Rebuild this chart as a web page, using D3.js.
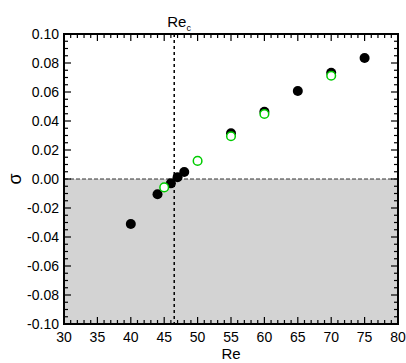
<!DOCTYPE html>
<html><head><meta charset="utf-8">
<script src="https://cdn.jsdelivr.net/npm/d3@7"></script>
<style>body{margin:0;background:#fff}svg{display:block}text{font-family:"Liberation Sans",Arial,sans-serif;fill:#000}</style>
</head><body>
<script>
const blackRe = [40, 44, 46, 47, 48, 55, 60, 65, 70, 75];
const blackSigma = [-0.031, -0.0105, -0.003, 0.0012, 0.0048, 0.0315, 0.0464, 0.0607, 0.0733, 0.0834];
const greenRe = [45, 50, 55, 60, 70];
const greenSigma = [-0.0058, 0.0125, 0.0295, 0.0448, 0.0712];
const xTicks = [30, 35, 40, 45, 50, 55, 60, 65, 70, 75, 80];
const yTicks = [-0.10, -0.08, -0.06, -0.04, -0.02, 0.00, 0.02, 0.04, 0.06, 0.08, 0.10];
const ReC = 46.5;

const W = 406, H = 363;
const m = {l: 64, r: 8, t: 34, b: 39};
const svg = d3.select("body").append("svg").attr("width", W).attr("height", H);
const x = d3.scaleLinear().domain([30, 80]).range([m.l, W - m.r]);
const y = d3.scaleLinear().domain([-0.10, 0.10]).range([H - m.b, m.t]);

svg.append("rect").attr("x", x(30)).attr("y", y(0)).attr("width", x(80) - x(30)).attr("height", y(-0.10) - y(0)).attr("fill", "#d3d3d3");

svg.append("line").attr("x1", x(30)).attr("x2", x(80)).attr("y1", y(0)).attr("y2", y(0))
  .attr("stroke", "#333").attr("stroke-width", 1).attr("stroke-dasharray", "4,2");
svg.append("line").attr("x1", x(ReC)).attr("x2", x(ReC)).attr("y1", y(0.10)).attr("y2", y(-0.10))
  .attr("stroke", "#000").attr("stroke-width", 1.5).attr("stroke-dasharray", "3,3");

const minorX = d3.range(30, 80.01, 1);
const minorY = d3.range(-0.10, 0.1001, 0.005);
const g = svg.append("g").attr("stroke", "#000");
minorX.forEach(v => {
  const major = Math.abs(v % 5) < 1e-9;
  const len = major ? 7 : 4;
  g.append("line").attr("x1", x(v)).attr("x2", x(v)).attr("y1", y(-0.10)).attr("y2", y(-0.10) - len).attr("stroke-width", 1.2);
  g.append("line").attr("x1", x(v)).attr("x2", x(v)).attr("y1", y(0.10)).attr("y2", y(0.10) + len).attr("stroke-width", 1.2);
});
minorY.forEach((v, i) => {
  const major = i % 4 === 0;
  const len = major ? 7 : 4;
  g.append("line").attr("x1", x(30)).attr("x2", x(30) + len).attr("y1", y(v)).attr("y2", y(v)).attr("stroke-width", 1.2);
  g.append("line").attr("x1", x(80)).attr("x2", x(80) - len).attr("y1", y(v)).attr("y2", y(v)).attr("stroke-width", 1.2);
});
svg.append("rect").attr("x", x(30)).attr("y", y(0.10)).attr("width", x(80) - x(30)).attr("height", y(-0.10) - y(0.10))
  .attr("fill", "none").attr("stroke", "#000").attr("stroke-width", 2);

svg.selectAll(".xt").data(xTicks).enter().append("text").attr("x", d => x(d)).attr("y", y(-0.10) + 18)
  .attr("text-anchor", "middle").attr("font-size", 14).text(d => d);
svg.selectAll(".yt").data(yTicks).enter().append("text").attr("x", x(30) - 5).attr("y", d => y(d) + 5)
  .attr("text-anchor", "end").attr("font-size", 14).text(d => d3.format(".2f")(d).replace("−", "-"));

svg.append("text").attr("x", (x(30) + x(80)) / 2).attr("y", 359).attr("text-anchor", "middle").attr("font-size", 15).text("Re");
svg.append("text").attr("transform", `translate(21,${y(0)}) rotate(-90)`).attr("text-anchor", "middle").attr("font-size", 18).text("σ");
const rc = svg.append("text").attr("x", x(ReC) - 7).attr("y", 27).attr("font-size", 15);
rc.append("tspan").text("Re");
rc.append("tspan").attr("font-size", 9).attr("dy", 4).text("c");

svg.selectAll(".b").data(blackRe).enter().append("circle")
  .attr("cx", d => x(d)).attr("cy", (d, i) => y(blackSigma[i])).attr("r", 5).attr("fill", "#000");
svg.selectAll(".gr").data(greenRe).enter().append("circle")
  .attr("cx", d => x(d)).attr("cy", (d, i) => y(greenSigma[i])).attr("r", 4.3)
  .attr("fill", "#fff").attr("stroke", "#00cc00").attr("stroke-width", 1.5);
</script>
</body></html>
